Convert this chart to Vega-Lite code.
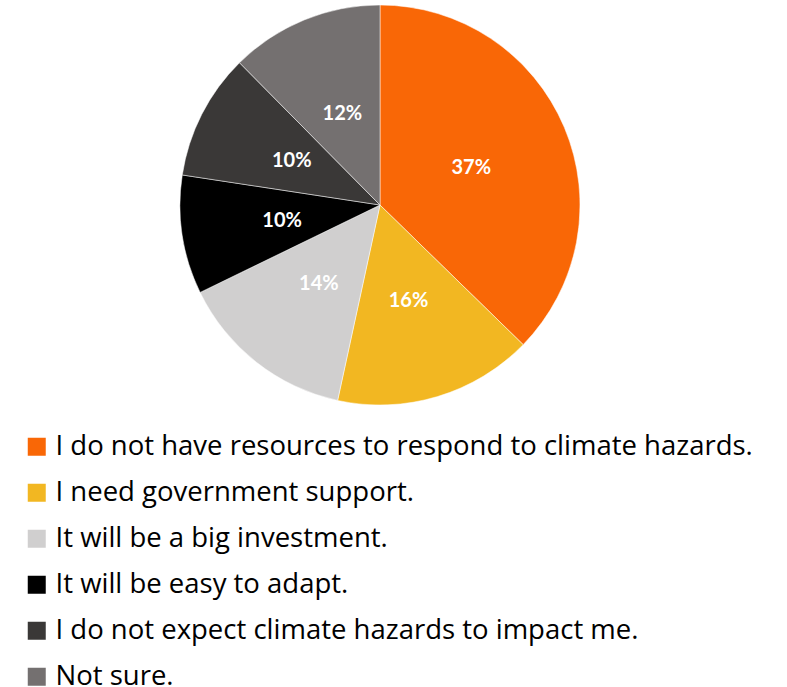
{
  "$schema": "https://vega.github.io/schema/vega-lite/v6.json",
  "autosize": "none",
  "width": 400,
  "height": 400,
  "padding": {"left": 180, "top": 5, "right": 207, "bottom": 282},
  "background": "white",
  "config": {"view": {"stroke": null}, "font": "Lato"},
  "data": {
    "values": [
      {"answer": "I do not have resources to respond to climate hazards.", "share": 37.3, "label": "37%", "rank": 1},
      {"answer": "I need government support.", "share": 16.1, "label": "16%", "rank": 2},
      {"answer": "It will be a big investment.", "share": 14.4, "label": "14%", "rank": 3},
      {"answer": "It will be easy to adapt.", "share": 9.6, "label": "10%", "rank": 4},
      {"answer": "I do not expect climate hazards to impact me.", "share": 10.2, "label": "10%", "rank": 5},
      {"answer": "Not sure.", "share": 12.4, "label": "12%", "rank": 6}
    ]
  },
  "encoding": {
    "theta": {"field": "share", "type": "quantitative", "stack": true},
    "order": {"field": "rank", "type": "quantitative", "sort": "ascending"}
  },
  "layer": [
    {
      "mark": {"type": "arc", "outerRadius": 200, "stroke": "white", "strokeWidth": 0.5},
      "encoding": {
        "color": {
          "field": "answer",
          "type": "nominal",
          "scale": {
            "domain": [
              "I do not have resources to respond to climate hazards.",
              "I need government support.",
              "It will be a big investment.",
              "It will be easy to adapt.",
              "I do not expect climate hazards to impact me.",
              "Not sure."
            ],
            "range": ["#F96706", "#F2B722", "#D0CFCF", "#000000", "#3A3837", "#747070"]
          },
          "legend": {
            "title": null,
            "orient": "none",
            "legendX": -157,
            "legendY": 428,
            "direction": "vertical",
            "symbolType": "square",
            "symbolSize": 324,
            "symbolStrokeWidth": 0,
            "labelFont": "Open Sans",
            "labelFontSize": 27.5,
            "labelColor": "#000000",
            "labelOffset": 5,
            "labelLimit": 800,
            "rowPadding": 17,
            "symbolOffset": 0
          }
        }
      }
    },
    {
      "mark": {"type": "text", "radius": 99, "fontSize": 20, "fontWeight": "bold", "fill": "white", "font": "Lato", "dy": 1},
      "encoding": {"text": {"field": "label", "type": "nominal"}}
    }
  ]
}
